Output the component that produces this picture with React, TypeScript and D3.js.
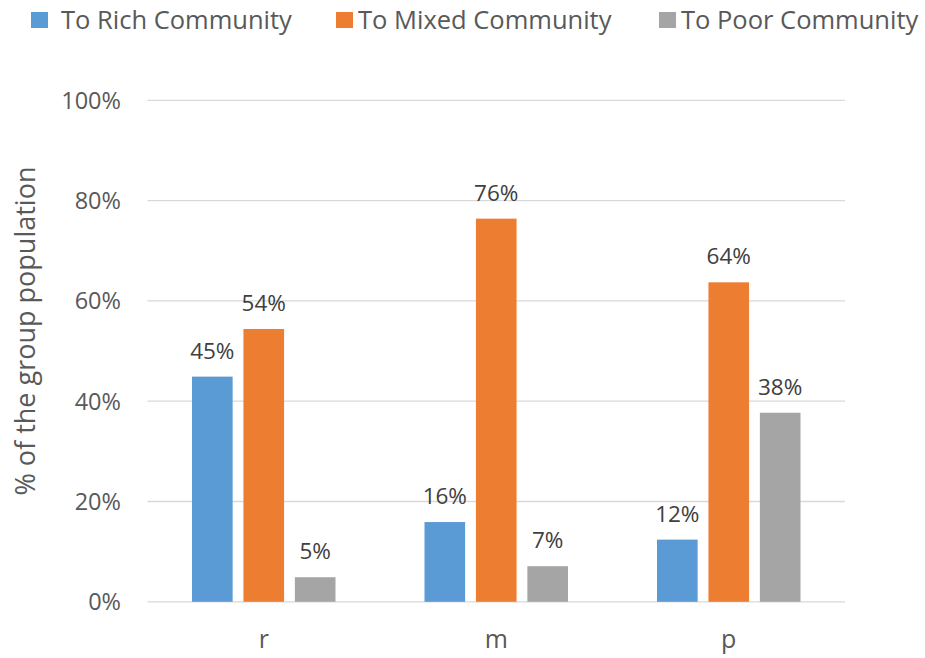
import React from "react";
import * as d3 from "d3";

const categories = ["r", "m", "p"];
const seriesNames = ["To Rich Community", "To Mixed Community", "To Poor Community"];
const richValues = [44.9, 15.9, 12.4];
const mixedValues = [54.4, 76.4, 63.7];
const poorValues = [4.9, 7.1, 37.7];
const labelRich = ["45%", "16%", "12%"];
const labelMixed = ["54%", "76%", "64%"];
const labelPoor = ["5%", "7%", "38%"];
const yTicks = [0, 20, 40, 60, 80, 100];
const colors = ["#5B9BD5", "#ED7D31", "#A5A5A5"];

const W = 925;
const H = 658;
const FONT = "'Open Sans', sans-serif";

export default function App() {
  const left = 147.5;
  const right = 845;
  const top = 100.3;
  const bottom = 601.8;

  const x = d3.scaleBand<string>().domain(categories).range([left, right]).padding(0);
  const inner = d3
    .scaleBand<string>()
    .domain(seriesNames)
    .range([44.5, x.bandwidth() - 44.5])
    .paddingInner(0.21)
    .paddingOuter(0);
  const y = d3.scaleLinear().domain([0, 100]).range([bottom, top]);

  const values = [richValues, mixedValues, poorValues];
  const labels = [labelRich, labelMixed, labelPoor];

  const legendSq = [31, 336, 659];
  const legendTx = [61, 358, 681];

  return (
    <svg width={W} height={H} style={{ position: "absolute", left: 0, top: 0 }} fontFamily={FONT}>
      <rect width={W} height={H} fill="#fff" />
      {/* legend */}
      {seriesNames.map((s, i) => (
        <g key={s}>
          <rect x={legendSq[i]} y={12} width={17} height={16} fill={colors[i]} />
          <text x={legendTx[i]} y={29} fontSize={25.5} fill="#595959">
            {s}
          </text>
        </g>
      ))}
      {/* gridlines */}
      {yTicks.map((t) => (
        <g key={t}>
          <line x1={left} x2={right} y1={y(t)} y2={y(t)} stroke="#D9D9D9" strokeWidth={1.3} />
          <text x={121} y={y(t)} dy="0.36em" textAnchor="end" fontSize={23.5} fill="#595959">
            {t}%
          </text>
        </g>
      ))}
      {/* y axis title */}
      <text
        transform={`translate(35, ${331}) rotate(-90)`}
        textAnchor="middle"
        fontSize={27}
        fill="#595959"
      >
        % of the group population
      </text>
      {/* bars */}
      {categories.map((c, ci) => (
        <g key={c}>
          {seriesNames.map((s, si) => {
            const v = values[si][ci];
            const bx = (x(c) as number) + (inner(s) as number);
            return (
              <g key={s}>
                <rect
                  x={bx}
                  y={y(v)}
                  width={inner.bandwidth()}
                  height={y(0) - y(v)}
                  fill={colors[si]}
                />
                <text
                  x={bx + inner.bandwidth() / 2}
                  y={y(v) - 18}
                  textAnchor="middle"
                  fontSize={22.5}
                  fill="#404040"
                >
                  {labels[si][ci]}
                </text>
              </g>
            );
          })}
          <text
            x={(x(c) as number) + x.bandwidth() / 2}
            y={648}
            textAnchor="middle"
            fontSize={25}
            fill="#595959"
          >
            {c}
          </text>
        </g>
      ))}
    </svg>
  );
}
